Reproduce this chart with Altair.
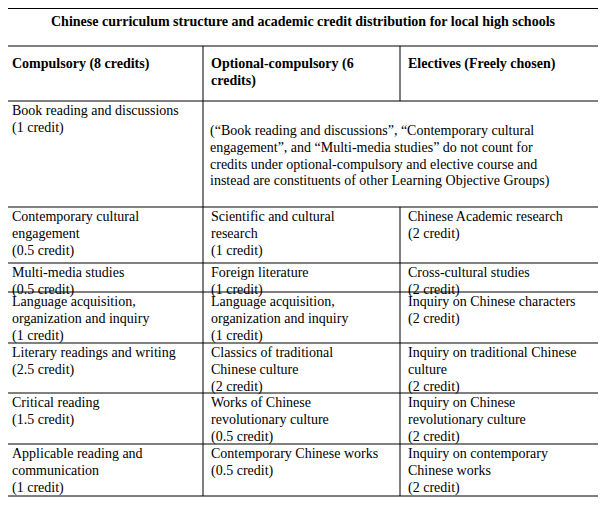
import altair as alt
import pandas as pd

title = "Chinese curriculum structure and academic credit distribution for local high schools"
headers = [["Compulsory (8 credits)"], ["Optional-compulsory (6", "credits)"], ["Electives (Freely chosen)"]]
note = ["(“Book reading and discussions”, “Contemporary cultural",
        "engagement”, and “Multi-media studies” do not count for",
        "credits under optional-compulsory and elective course and",
        "instead are constituents of other Learning Objective Groups)"]
rows = [
    [["Book reading and discussions", "(1 credit)"], None, None],
    [["Contemporary cultural", "engagement", "(0.5 credit)"], ["Scientific and cultural", "research", "(1 credit)"], ["Chinese Academic research", "(2 credit)"]],
    [["Multi-media studies", "(0.5 credit)"], ["Foreign literature", "(1 credit)"], ["Cross-cultural studies", "(2 credit)"]],
    [["Language acquisition,", "organization and inquiry", "(1 credit)"], ["Language acquisition,", "organization and inquiry", "(1 credit)"], ["Inquiry on Chinese characters", "(2 credit)"]],
    [["Literary readings and writing", "(2.5 credit)"], ["Classics of traditional", "Chinese culture", "(2 credit)"], ["Inquiry on traditional Chinese", "culture", "(2 credit)"]],
    [["Critical reading", "(1.5 credit)"], ["Works of Chinese", "revolutionary culture", "(0.5 credit)"], ["Inquiry on Chinese", "revolutionary culture", "(2 credit)"]],
    [["Applicable reading and", "communication", "(1 credit)"], ["Contemporary Chinese works", "(0.5 credit)"], ["Inquiry on contemporary", "Chinese works", "(2 credit)"]],
]

# layout grid (pixel coords)
col_x = [4, 203, 400, 602]
row_y = [8.5, 46, 101, 207, 263, 292, 343, 393, 444, 496]
LH = 16.8

texts = []
texts.append(dict(x=(col_x[0] + col_x[3]) / 2, y=22, t=title, bold=True, align="center"))
for c, lines in enumerate(headers):
    for i, s in enumerate(lines):
        texts.append(dict(x=col_x[c] + 8, y=64 + i * LH, t=s, bold=True, align="left"))
for r, row in enumerate(rows):
    top = row_y[r + 2]
    for c, lines in enumerate(row):
        if lines is None:
            continue
        for i, s in enumerate(lines):
            texts.append(dict(x=col_x[c] + 8, y=top + 10 + i * LH, t=s, bold=False, align="left"))
for i, s in enumerate(note):
    texts.append(dict(x=col_x[1] + 7, y=131 + i * LH, t=s, bold=False, align="left"))
tdf = pd.DataFrame(texts)

segs = []
for y in row_y:
    segs.append(dict(x=col_x[0], x2=col_x[3], y=y, y2=y))
for x in (col_x[0], col_x[3]):
    segs.append(dict(x=x, x2=x, y=row_y[0], y2=row_y[-1]))
segs.append(dict(x=col_x[1], x2=col_x[1], y=row_y[1], y2=row_y[-1]))
segs.append(dict(x=col_x[2], x2=col_x[2], y=row_y[1], y2=row_y[2]))
segs.append(dict(x=col_x[2], x2=col_x[2], y=row_y[3], y2=row_y[-1]))
sdf = pd.DataFrame(segs)

xs = alt.Scale(domain=[8, 598])
ys = alt.Scale(domain=[8, 497], reverse=True)

rules = alt.Chart(sdf).mark_rule(color="black", strokeWidth=1).encode(
    x=alt.X("x:Q", scale=xs, axis=None), x2="x2",
    y=alt.Y("y:Q", scale=ys, axis=None), y2="y2")

base = alt.Chart(tdf).encode(
    x=alt.X("x:Q", scale=xs, axis=None), y=alt.Y("y:Q", scale=ys, axis=None), text="t:N")
normal = base.transform_filter("!datum.bold").mark_text(
    font="Liberation Serif", fontSize=14, align="left", baseline="middle", color="black")
boldl = base.transform_filter("datum.bold && datum.align=='left'").mark_text(
    font="Liberation Serif", fontSize=14, fontWeight="bold", align="left", baseline="middle", color="black")
boldc = base.transform_filter("datum.bold && datum.align=='center'").mark_text(
    font="Liberation Serif", fontSize=14, fontWeight="bold", align="center", baseline="middle", color="black")

chart = alt.layer(rules, normal, boldl, boldc).properties(
    width=590, height=489, padding=0, autosize=alt.AutoSizeParams(type="none")
).configure_view(stroke=None)

chart.save("out.html", embed_options={"renderer": "svg", "actions": False})
